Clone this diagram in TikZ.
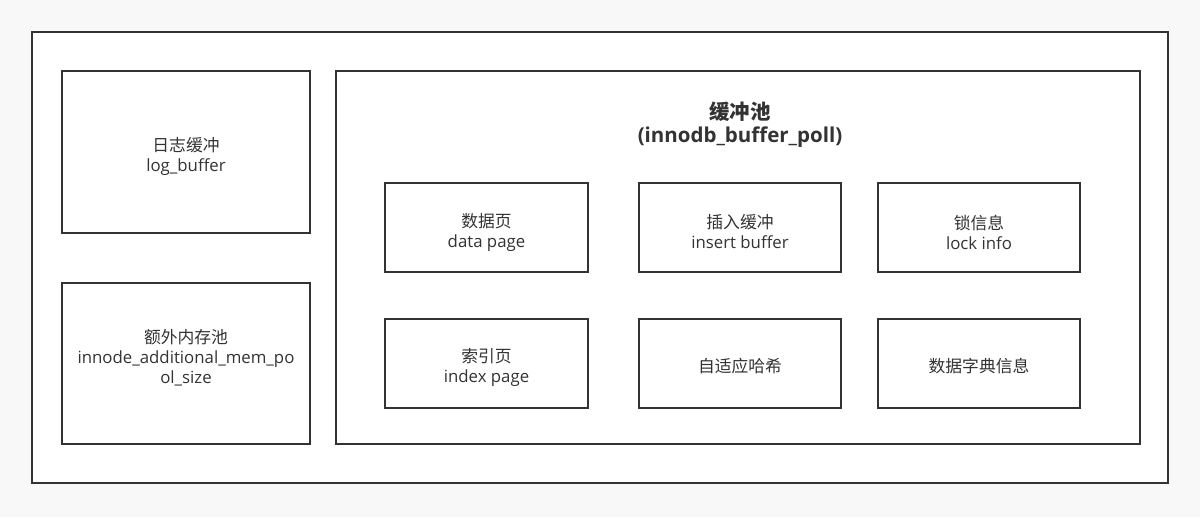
\documentclass[tikz,border=0pt]{standalone}
\usepackage{fontspec}
\setmainfont{Open Sans}
\newfontfamily\cjk{Noto Sans CJK SC}
\definecolor{edge}{HTML}{333333}
\definecolor{txt}{HTML}{333333}
\definecolor{bg}{HTML}{F8F8F8}
\begin{document}
\begin{tikzpicture}[x=1pt,y=-1pt,
  frame/.style={draw=edge,line width=2pt,fill=white},
  lbl/.style={text=txt,align=center,font=\fontsize{16.8}{20}\selectfont},
  ttl/.style={text=txt,align=center,font=\fontsize{20.5}{23.5}\selectfont\bfseries}]
\fill[bg] (0,0) rectangle (1200,517);
\useasboundingbox (0,0) rectangle (1200,517);
\draw[frame] (32,32) rectangle (1168,483);
\draw[frame] (62,71) rectangle (310,233);
\draw[frame] (62,283) rectangle (310,444);
\draw[frame] (336,71) rectangle (1140,444);
\node[ttl] (title) at (740,124.5) {{\cjk 缓冲池}\\(innodb\_buffer\_poll)};
\node[lbl] (log) at (186,156) {{\cjk 日志缓冲}\\log\_buffer};
\node[lbl] (mem) at (186,358) {{\cjk 额外内存池}\\innode\_additional\_mem\_po\\ol\_size};
\draw[frame] (385,183) rectangle (588,272);
\draw[frame] (639,183) rectangle (841,272);
\draw[frame] (878,183) rectangle (1080,272);
\draw[frame] (385,319) rectangle (588,408);
\draw[frame] (639,319) rectangle (841,408);
\draw[frame] (878,319) rectangle (1080,408);
\node[lbl] (dp) at (486.5,232) {{\cjk 数据页}\\data page};
\node[lbl] (ib) at (740,232) {{\cjk 插入缓冲}\\insert buffer};
\node[lbl] (li) at (979,232) {{\cjk 锁信息}\\lock info};
\node[lbl] (ip) at (486.5,367.5) {{\cjk 索引页}\\index page};
\node[lbl] (ah) at (740,366) {\cjk 自适应哈希};
\node[lbl] (dd) at (979,366) {\cjk 数据字典信息};
\end{tikzpicture}
\end{document}
